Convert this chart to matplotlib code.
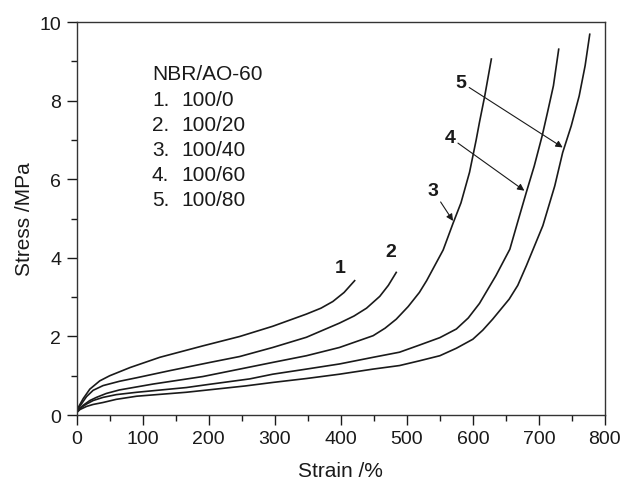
import numpy as np
import matplotlib
matplotlib.use('agg')
from matplotlib import pyplot as plt
from matplotlib.ticker import MultipleLocator

plt.rcParams['font.family'] = ['Liberation Sans', 'DejaVu Sans']

# strain (%) / stress (MPa)
strain_1 = [0, 10, 20, 35, 50, 81, 126, 191, 247, 297, 348, 370, 388, 405, 421]
stress_1 = [0.12, 0.42, 0.66, 0.87, 1.00, 1.21, 1.47, 1.76, 2.00, 2.26, 2.57, 2.72, 2.89, 3.12, 3.42]

strain_2 = [0, 8, 15, 25, 40, 65, 91, 141, 202, 247, 297, 348, 398, 420, 439, 459, 472, 484]
stress_2 = [0.10, 0.30, 0.47, 0.63, 0.75, 0.86, 0.95, 1.13, 1.34, 1.49, 1.72, 1.98, 2.34, 2.52, 2.72, 3.02, 3.30, 3.63]

strain_3 = [0, 10, 20, 30, 45, 65, 116, 191, 247, 297, 348, 398, 449, 467, 484, 502, 519, 530, 555,
            570, 582, 595, 605, 610, 618, 628]
stress_3 = [0.08, 0.25, 0.37, 0.45, 0.55, 0.64, 0.79, 0.98, 1.17, 1.34, 1.51, 1.72, 2.02, 2.21, 2.44, 2.76, 3.12, 3.42, 4.20,
            4.88, 5.40, 6.18, 7.00, 7.45, 8.12, 9.06]

strain_4 = [0, 5, 15, 25, 40, 60, 91, 166, 200, 262, 297, 348, 398, 449, 489, 519, 550, 575, 593, 610, 635,
            656, 668, 681, 693, 705, 713, 722, 730]
stress_4 = [0.07, 0.17, 0.28, 0.37, 0.45, 0.52, 0.58, 0.70, 0.78, 0.92, 1.04, 1.17, 1.30, 1.47, 1.60, 1.78, 1.97, 2.19, 2.47, 2.84, 3.55,
            4.22, 4.92, 5.67, 6.34, 7.11, 7.70, 8.38, 9.31]

strain_5 = [0, 5, 15, 25, 40, 60, 91, 166, 255, 297, 348, 398, 449, 489, 519, 550, 575, 600, 615, 630,
            655, 668, 681, 706, 724, 736, 749, 761, 770, 777]
stress_5 = [0.06, 0.14, 0.22, 0.27, 0.32, 0.40, 0.48, 0.58, 0.74, 0.83, 0.93, 1.04, 1.17, 1.26, 1.38, 1.51, 1.70, 1.93, 2.16, 2.44,
            2.95, 3.30, 3.80, 4.82, 5.83, 6.68, 7.36, 8.12, 8.89, 9.69]

legend_title = 'NBR/AO-60'
legend_nums = ['1.', '2.', '3.', '4.', '5.']
legend_ratios = ['100/0', '100/20', '100/40', '100/60', '100/80']

ink = '#1a1a1a'

fig = plt.figure(figsize=(6.23, 4.81), dpi=100)
ax = fig.add_axes([0.123, 0.135, 0.848, 0.817])

for sx, sy in [(strain_1, stress_1), (strain_2, stress_2), (strain_3, stress_3),
               (strain_4, stress_4), (strain_5, stress_5)]:
    ax.plot(sx, sy, color=ink, lw=1.2, solid_joinstyle='round')

ax.set_xlim(0, 800)
ax.set_ylim(0, 10)
ax.xaxis.set_major_locator(MultipleLocator(100))
ax.xaxis.set_minor_locator(MultipleLocator(50))
ax.yaxis.set_major_locator(MultipleLocator(2))
ax.yaxis.set_minor_locator(MultipleLocator(1))
ax.tick_params(which='both', direction='out', colors=ink, labelsize=14, width=1.0)
ax.tick_params(which='major', length=7, pad=4)
ax.tick_params(which='minor', length=4)
for s in ax.spines.values():
    s.set_color('#333333')
    s.set_linewidth(1.0)

ax.set_xlabel('Strain /%', fontsize=15, color=ink, labelpad=10)
ax.set_ylabel('Stress /MPa', fontsize=15, color=ink, labelpad=4)

# curve numbers
ax.text(399, 3.76, '1', fontsize=14, fontweight='bold', ha='center', va='center', color=ink)
ax.text(476, 4.16, '2', fontsize=14, fontweight='bold', ha='center', va='center', color=ink)
arrow = dict(arrowstyle='-|>', color=ink, lw=0.8, mutation_scale=10, shrinkA=0, shrinkB=0)
ax.annotate('3', xy=(570, 4.94), xytext=(540, 5.71), fontsize=14, fontweight='bold',
            ha='center', va='center', color=ink, arrowprops=arrow)
ax.annotate('4', xy=(678, 5.71), xytext=(565, 7.07), fontsize=14, fontweight='bold',
            ha='center', va='center', color=ink, arrowprops=arrow)
ax.annotate('5', xy=(736, 6.81), xytext=(582, 8.47), fontsize=14, fontweight='bold',
            ha='center', va='center', color=ink, arrowprops=arrow)

# legend block
ax.text(114, 8.68, legend_title, fontsize=15, ha='left', va='center', color=ink)
for i, (n, r) in enumerate(zip(legend_nums, legend_ratios)):
    yy = 8.04 - 0.636 * i
    ax.text(114, yy, n, fontsize=15, ha='left', va='center', color=ink)
    ax.text(159, yy, r, fontsize=15, ha='left', va='center', color=ink)

fig.savefig('out.png', dpi=100)
